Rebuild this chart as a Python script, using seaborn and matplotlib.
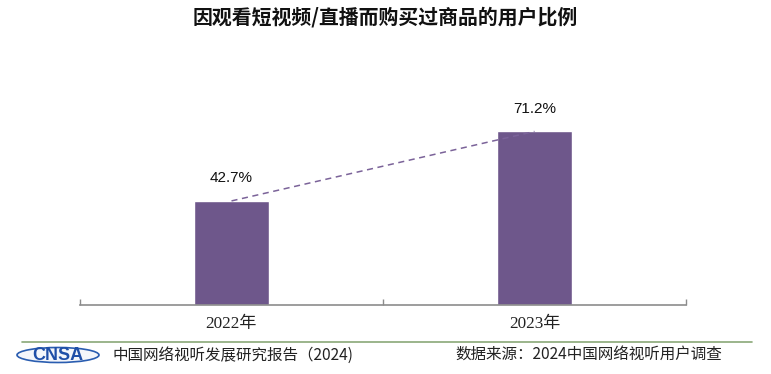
import matplotlib
matplotlib.use("Agg")
import matplotlib.pyplot as plt
import seaborn as sns
import pandas as pd
from matplotlib.patches import Ellipse
from matplotlib.lines import Line2D

years = ["2022年", "2023年"]
shares = [42.7, 71.2]
share_labels = ["42.7%", "71.2%"]

title = "因观看短视频/直播而购买过商品的用户比例"
footer_left = "中国网络视听发展研究报告（2024)"
footer_right = "数据来源：2024中国网络视听用户调查"

bar_color = "#6E578B"
line_color = "#7B6399"

sns.set_theme(style="white")
plt.rcParams["font.family"] = ["Noto Sans CJK SC", "DejaVu Sans"]

W, H = 771, 374
fig = plt.figure(figsize=(W / 100, H / 100), dpi=100)
ax = fig.add_axes([80 / W, 1 - 305 / H, (686 - 80) / W, (305 - 110) / H])

frame = pd.DataFrame({"year": years, "share": shares})
sns.barplot(frame, x="year", y="share", color=bar_color, width=0.25,
            saturation=1, ax=ax)
ax.plot(range(len(years)), shares, linestyle=(0, (4, 3)), color=line_color,
        linewidth=1.1, zorder=1)

for i, (v, lab) in enumerate(zip(shares, share_labels)):
    ax.text(i, v + 9.4, lab, ha="center", va="center", fontsize=11,
            family=["Liberation Sans", "DejaVu Sans"], color="#111111", clip_on=False)

ax.set_xlim(-0.5, 1.5)
ax.set_ylim(0, 80)
ax.set_xlabel("")
ax.set_ylabel("")
ax.set_yticks([])
for side in ["left", "right", "top"]:
    ax.spines[side].set_visible(False)
ax.spines["bottom"].set_color("#8c8c8c")
ax.spines["bottom"].set_linewidth(1.2)
ax.set_xticks([-0.5, 0.5, 1.5], minor=True)
ax.tick_params(axis="x", which="minor", direction="in", length=4, width=1,
               color="#8c8c8c", bottom=True)
ax.tick_params(axis="x", which="major", length=0, pad=8)
for t in ax.get_xticklabels():
    t.set_family(["Liberation Serif", "Noto Sans CJK SC"])
    t.set_fontsize(12.3)
    t.set_color("#222222")

fig.text(385 / W, 1 - 17 / H, title, ha="center", va="center", fontsize=14.3,
         fontweight="bold", color="#111111")

# footer
fig.add_artist(Line2D([22 / W, 752 / W], [1 - 342 / H, 1 - 342 / H],
                      color="#8aa878", linewidth=1.2))
fig.add_artist(Ellipse((58 / W, 1 - 355 / H), 82 / W, 15 / H,
                       facecolor="#f4f6fb", edgecolor="#2a5db0", linewidth=1.2))
fig.text(58 / W, 1 - 355 / H, "CNSA", ha="center", va="center", fontsize=13,
         fontweight="bold", color="#1f4fa8",
         family=["Liberation Sans", "DejaVu Sans"])
fig.text(113 / W, 1 - 355 / H, footer_left, ha="left", va="center",
         fontsize=11.2, color="#222222")
fig.text(455 / W, 1 - 355 / H, footer_right, ha="left", va="center",
         fontsize=11.2, color="#222222")

fig.savefig("out.png", dpi=100)
